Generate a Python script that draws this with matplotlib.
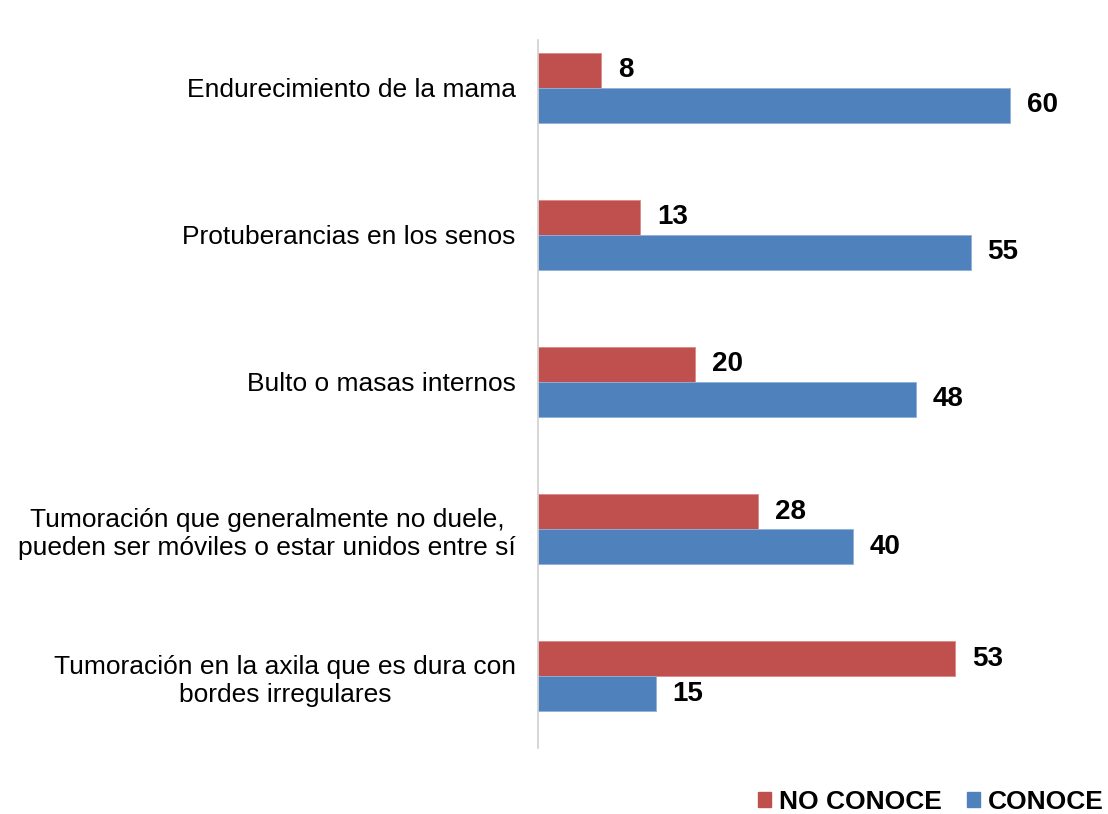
import matplotlib
matplotlib.use("Agg")
import matplotlib.pyplot as plt
from matplotlib.patches import Patch
import numpy as np

plt.rcParams['font.family'] = ['Liberation Sans', 'DejaVu Sans']

categories = ["Endurecimiento de la mama",
              "Protuberancias en los senos",
              "Bulto o masas internos",
              "Tumoración que generalmente no duele,\npueden ser móviles o estar unidos entre sí",
              "Tumoración en la axila que es dura con\nbordes irregulares"]
no_conoce = [8, 13, 20, 28, 53]
conoce = [60, 55, 48, 40, 15]

RED, BLUE = "#C0504D", "#4F81BD"

fig = plt.figure(figsize=(11.08, 8.14), dpi=100)
ax = fig.add_axes([0.4856, 0.081, 0.497, 0.870])

y = np.arange(len(categories))
h = 0.238
ax.barh(y - h/2, no_conoce, height=h, color=RED, edgecolor="#d98a88", lw=0.6)
ax.barh(y + h/2, conoce, height=h, color=BLUE, edgecolor="#8fb0d8", lw=0.6)

for ys, vals in [(y - h/2, no_conoce), (y + h/2, conoce)]:
    for yi, v in zip(ys, vals):
        ax.annotate(str(v), (v, yi), xytext=(12, 0), textcoords='offset points',
                    va='center', ha='left', fontsize=20, fontweight='bold')

ax.set_xlim(0, 70)
ax.set_ylim(4.49, -0.327)
ax.set_yticks(y)
ax.set_yticklabels(categories, fontsize=19, ha='right', multialignment='center',
                   linespacing=1.25)
ax.tick_params(axis='y', length=0, pad=16)
ax.set_xticks([])
for s in ['top', 'right', 'bottom']:
    ax.spines[s].set_visible(False)
ax.spines['left'].set_color('#d0d0d0')
ax.spines['left'].set_linewidth(1.2)

handles = [Patch(color=RED), Patch(color=BLUE)]
fig.legend(handles, ["NO CONOCE", "CONOCE"], loc='lower right',
           bbox_to_anchor=(1.018, -0.029), ncol=2, frameon=False,
           prop={'size': 19, 'weight': 'bold'}, handlelength=0.5,
           handleheight=0.5, handletextpad=0.3, columnspacing=0.95)

fig.savefig("out.png", dpi=100)
